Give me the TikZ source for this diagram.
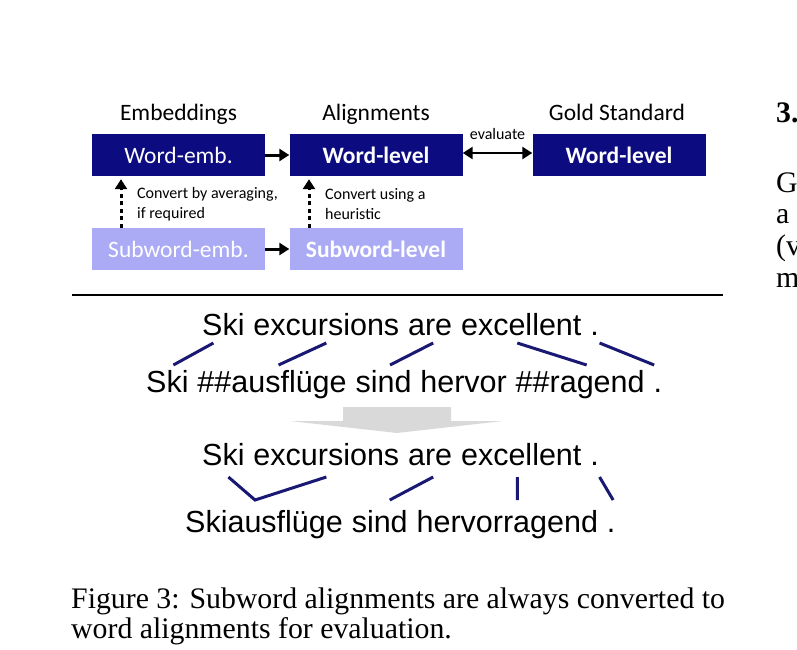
\documentclass[tikz,border=0pt]{standalone}
\usepackage{fontspec}
\setmainfont{Liberation Serif}
\newfontfamily\calibri{Carlito}
\newfontfamily\helv{Liberation Sans}
\usetikzlibrary{arrows.meta,positioning,calc}
\definecolor{navy}{RGB}{12,12,128}
\definecolor{lavender}{RGB}{170,170,245}
\definecolor{alnline}{RGB}{25,25,115}
\definecolor{arrowgray}{RGB}{217,217,217}
\newcommand{\wsp}{8.48pt}

\begin{document}
\begin{tikzpicture}[
		x=1pt, y=-1pt,
		>={Triangle[length=10pt,width=12pt]},
		box/.style={minimum width=173pt, minimum height=42pt, inner sep=0pt, text=white,
			font=\calibri\fontsize{23.5}{28}\selectfont},
		wordbox/.style={box, fill=navy},
		subbox/.style={box, fill=lavender},
		head/.style={anchor=base, inner sep=0pt, font=\calibri\fontsize{23.5}{28}\selectfont},
		note/.style={anchor=west, align=left, inner sep=0pt, font=\calibri\fontsize{16}{20}\selectfont},
		flow/.style={->, line width=3pt},
		conv/.style={->, line width=3pt, dash pattern=on 4pt off 3.5pt, shorten >=3pt},
		wd/.style={inner sep=0pt, font=\helv\fontsize{30.5}{36}\selectfont},
		aln/.style={alnline, line width=3pt},
		captext/.style={anchor=base west, inner sep=0pt, font=\fontsize{29.8}{30}\selectfont}
		]
		
		\fill[white] (0,0) rectangle (797,649);
		\useasboundingbox (0,0) rectangle (797,649);
		
		% --------------------------------------------------
		% Boxes
		% --------------------------------------------------
		\node[wordbox] (we) at (178.5,155) {Word-emb.};
		\node[wordbox] (wl) at (376,155) {\bfseries Word-level};
		\node[wordbox] (gl) at (619,155) {\bfseries Word-level};
		\node[subbox] (se) at (178.5,249) {Subword-emb.};
		\node[subbox] (sl) at (376,249) {\bfseries Subword-level};
		
		% column heads
		\node[head] (h1) at ($(we.north)+(0,-13)$) {Embeddings};
		\node[head] (h2) at ($(wl.north)+(0,-13)$) {Alignments};
		\node[head] (h3) at ($(gl.north)+(-2,-13)$) {Gold Standard};
		
		% arrows
		\draw[flow] (we) -- (wl);
		\draw[flow] (se) -- (sl);
		\draw[<->, line width=2.5pt] ([yshift=2pt]wl.east) -- ([yshift=2pt]gl.west)
		node[midway, above=12pt, inner sep=0pt, font=\calibri\fontsize{16}{20}\selectfont] (ev) {evaluate};
		
		\draw[conv] ([xshift=-57.5pt]se.north) -- ([xshift=-57.5pt]we.south);
		\draw[conv] ([xshift=-67pt]sl.north) -- ([xshift=-67pt]wl.south);
		\node[note] (n1) at (137,204) {Convert by averaging,\\if required};
		\node[note] (n2) at (325,204) {Convert using a\\heuristic};
		
		% rule
		\draw[line width=1.2pt] (72,295) -- (723,295);
		
		% --------------------------------------------------
		% Subword alignments
		% --------------------------------------------------
		\node[wd, anchor=base west] (a1) at (202,335) {Ski};
		\node[wd, base right=\wsp of a1] (a2) {excursions};
		\node[wd, base right=\wsp of a2] (a3) {are};
		\node[wd, base right=\wsp of a3] (a4) {excellent};
		\node[wd, base right=\wsp of a4] (a5) {.};
		
		\node[wd, anchor=base west] (b1) at (146,392) {Ski};
		\node[wd, base right=\wsp of b1] (b2) {\#\#ausflüge};
		\node[wd, base right=\wsp of b2] (b3) {sind};
		\node[wd, base right=\wsp of b3] (b4) {hervor};
		\node[wd, base right=\wsp of b4] (b5) {\#\#ragend};
		\node[wd, base right=\wsp of b5] (b6) {.};
		
		\foreach \t/\b/\dt/\db in {a1/b1/-10/6, a2/b2/0/6.5, a3/b3/3/6.5, a4/b5/-4/6.5, a5/b6/5/-3.6}
		{
			\draw[aln] ($(\t.base)+(\dt,8)$) -- ($(\b.base)+(\db,-27)$);
		}
		
		% conversion arrow
		\fill[arrowgray] (343,407) -- (451,407) -- (451,421) -- (503,421) -- (397,433) -- (290,421) -- (343,421) -- cycle;
		
		% --------------------------------------------------
		% Word alignments
		% --------------------------------------------------
		\node[wd, anchor=base west] (c1) at (202,465) {Ski};
		\node[wd, base right=\wsp of c1] (c2) {excursions};
		\node[wd, base right=\wsp of c2] (c3) {are};
		\node[wd, base right=\wsp of c3] (c4) {excellent};
		\node[wd, base right=\wsp of c4] (c5) {.};
		
		\node[wd, anchor=base west] (d1) at (185,532) {Skiausflüge};
		\node[wd, base right=\wsp of d1] (d2) {sind};
		\node[wd, base right=\wsp of d2] (d3) {hervorragend};
		\node[wd, base right=\wsp of d3] (d4) {.};
		
		\draw[aln] ($(c1.base)+(5,12)$) -- ($(d1.base)+(-9,-32)$) -- ($(c2.base)+(0,12)$);
		\draw[aln] ($(c3.base)+(3,12)$) -- ($(d2.base)+(10,-32)$);
		\draw[aln] ($(c4.base)+(-4,12)$) -- ($(d3.base)+(10,-32)$);
		\draw[aln] ($(c5.base)+(5,12)$) -- ($(d4.base)+(2,-32)$);
		
		% --------------------------------------------------
		% Caption and next column
		% --------------------------------------------------
		\node[captext] (cap1) at (71,608) {Figure 3: Subword alignments are always converted to};
		\node[captext] (cap2) at (71,638) {word alignments for evaluation.};
		
		\node[captext] (sec) at (776,122) {\bfseries 3.};
		\node[captext] (r1) at (776,192) {G};
		\node[captext] (r2) at (776,223) {a};
		\node[captext] (r3) at (776,255) {(v};
		\node[captext] (r4) at (776,287) {m};
		
	\end{tikzpicture}
\end{document}
